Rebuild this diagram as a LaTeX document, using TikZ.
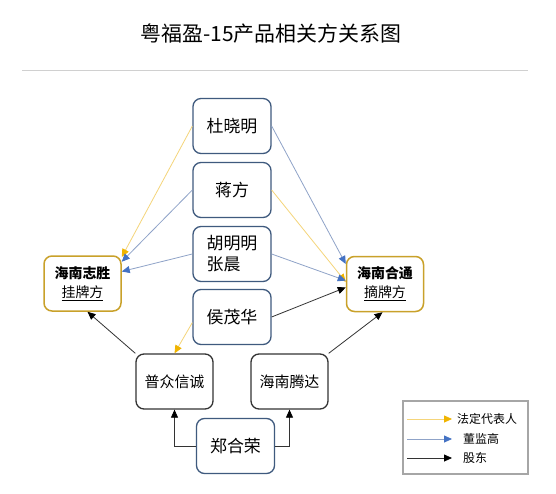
\documentclass[tikz,border=0pt]{standalone}
\usepackage{fontspec}
\setmainfont{Noto Sans CJK SC}
\usetikzlibrary{arrows.meta}
\definecolor{personblue}{HTML}{3F5A7E}
\definecolor{firmgold}{HTML}{C9A12A}
\definecolor{holderdark}{HTML}{333333}
\definecolor{legalline}{HTML}{F5D57A}
\definecolor{legaltip}{HTML}{F0B400}
\definecolor{boardline}{HTML}{8FA3C8}
\definecolor{boardtip}{HTML}{4472C4}
\definecolor{ruleline}{HTML}{D0D0D0}
\tikzset{
  person/.style={draw=personblue, line width=1.3bp, rounded corners=8bp, minimum width=78bp, minimum height=55bp, fill=white, font=\fontsize{17}{21}\selectfont},
  firm/.style={draw=firmgold, line width=1.5bp, rounded corners=8bp, minimum width=77bp, minimum height=55bp, fill=white, align=center, font=\fontsize{14}{19}\selectfont},
  holder/.style={draw=holderdark, line width=1.3bp, rounded corners=8bp, minimum width=77bp, minimum height=55bp, fill=white, font=\fontsize{15}{19}\selectfont},
  legal/.style={draw=legalline, line width=0.8bp, -{Triangle[length=8bp,width=7bp,color=legaltip]}},
  board/.style={draw=boardline, line width=0.8bp, -{Triangle[length=8bp,width=7bp,color=boardtip]}},
  share/.style={draw=holderdark, line width=0.8bp, -{Triangle[length=8bp,width=7bp,color=black]}},
  legtext/.style={anchor=west, inner sep=0pt, font=\fontsize{12}{14}\selectfont}
}
\begin{document}
\begin{tikzpicture}[x=1bp, y=-1bp]
  \useasboundingbox[fill=white] (0,0) rectangle (556,494);
  \node[font=\fontsize{21}{24}\selectfont] (title) at (271,34) {粤福盈-15产品相关方关系图};
  \draw[ruleline, line width=0.8bp] (22,70) -- (528,70);

  \node[person] (du) at (232,126) {杜晓明};
  \node[person] (jiang) at (232,190) {蒋方};
  \node[person, align=left] (hu) at (232,254) {胡明明\\张晨};
  \node[person] (hou) at (232,317) {侯茂华};
  \node[firm] (zhisheng) at (82.5,283.5) {\textbf{海南志胜}\\\underline{挂牌方}};
  \node[firm] (hetong) at (385,284) {\textbf{海南合通}\\\underline{摘牌方}};
  \node[holder] (puzhong) at (174.5,381.5) {普众信诚};
  \node[holder] (tengda) at (289.5,381.5) {海南腾达};
  \node[person] (zheng) at (235.5,446) {郑合荣};

  \draw[legal] (du.west) -- (zhisheng.34);
  \draw[board] (jiang.west) -- (zhisheng.29);
  \draw[board] (hu.west) -- (zhisheng.17);
  \draw[board] (du.east) -- (hetong.153);
  \draw[legal] (jiang.east) -- (hetong.177);
  \draw[board] (hu.east) -- (hetong.175);
  \draw[share] (hou.east) -- (hetong.185);
  \draw[legal] (hou.188) -- (puzhong.north);
  \draw[share] (puzhong.north west) -- (zhisheng.-80);
  \draw[share] (tengda.north east) -- (hetong.-95);
  \draw[share] (zheng.west) -| (puzhong.south);
  \draw[share] (zheng.east) -| (tengda.south);

  \draw[gray!70, line width=1.2bp] (403,401) rectangle (528,474);
  \coordinate (legalA) at (407,419); \coordinate (legalB) at (452,419);
  \coordinate (boardA) at (407,439); \coordinate (boardB) at (452,439);
  \coordinate (shareA) at (407,458); \coordinate (shareB) at (452,458);
  \draw[legal] (legalA) -- (legalB);
  \draw[board] (boardA) -- (boardB);
  \draw[share] (shareA) -- (shareB);
  \node[legtext] (legallab) at (457,419) {法定代表人};
  \node[legtext] (boardlab) at (463,439) {董监高};
  \node[legtext] (sharelab) at (463,458) {股东};
\end{tikzpicture}
\end{document}
